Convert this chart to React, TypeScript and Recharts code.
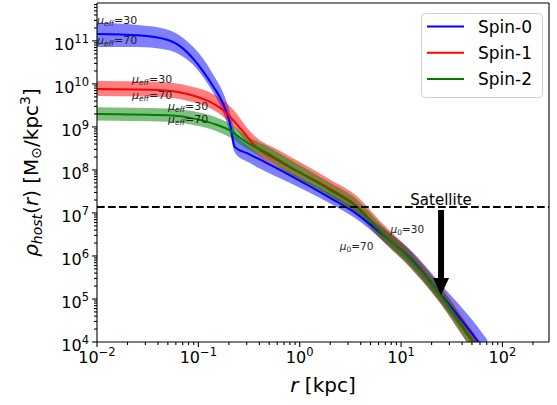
import React from "react";
import { ComposedChart, Area, Line, XAxis, YAxis, ReferenceLine, ReferenceDot } from "recharts";

// all values are log10: r in kpc, rho in Msun/kpc^3
const spin0LogR = [-2.0, -1.6, -1.3, -1.15, -1.05, -0.95, -0.85, -0.76, -0.69, -0.64, -0.5, -0.4, -0.1, 0.3, 0.56, 0.79, 1.11, 1.38, 1.74, 1.85];
const spin0Mid = [11.16, 11.13, 11.02, 10.82, 10.58, 10.28, 9.93, 9.56, 9.1, 8.53, 8.37, 8.25, 7.88, 7.35, 6.98, 6.55, 5.9, 5.14, 4.07, 3.72];
const spin0Lo = [10.86, 10.86, 10.79, 10.63, 10.44, 10.15, 9.78, 9.36, 8.88, 8.4, 8.17, 8.04, 7.7, 7.22, 6.86, 6.42, 5.74, 4.96, 3.85, 3.5];
const spin0Hi = [11.42, 11.37, 11.26, 11.07, 10.86, 10.58, 10.2, 9.82, 9.36, 8.9, 8.55, 8.35, 7.95, 7.45, 7.1, 6.7, 6.1, 5.38, 4.4, 4.05];

const spin1LogR = [-2.0, -1.4, -1.1, -0.9, -0.76, -0.62, -0.52, -0.45, -0.2, 0.3, 0.56, 0.79, 1.11, 1.38, 1.69, 1.85];
const spin1Mid = [9.88, 9.86, 9.76, 9.6, 9.4, 9.06, 8.78, 8.58, 8.2, 7.56, 7.17, 6.6, 5.88, 5.12, 4.08, 3.55];
const spin1Lo = [9.72, 9.7, 9.6, 9.45, 9.25, 8.92, 8.62, 8.42, 8.05, 7.4, 7.0, 6.42, 5.68, 4.92, 3.85, 3.3];
const spin1Hi = [10.07, 10.05, 9.96, 9.82, 9.63, 9.3, 8.98, 8.8, 8.45, 7.78, 7.4, 6.82, 6.08, 5.32, 4.3, 3.78];

const spin2LogR = [-2.0, -1.3, -1.0, -0.82, -0.69, -0.53, -0.33, -0.1, 0.3, 0.56, 0.79, 1.11, 1.38, 1.69, 1.85];
const spin2Mid = [9.3, 9.27, 9.17, 9.05, 8.92, 8.65, 8.4, 8.08, 7.53, 7.14, 6.58, 5.87, 5.12, 4.06, 3.55];
const spin2Lo = [9.15, 9.12, 9.02, 8.9, 8.76, 8.5, 8.25, 7.92, 7.38, 6.98, 6.42, 5.68, 4.93, 3.86, 3.35];
const spin2Hi = [9.46, 9.43, 9.34, 9.22, 9.08, 8.8, 8.56, 8.25, 7.7, 7.32, 6.76, 6.05, 5.3, 4.27, 3.75];

const seriesNames = ["Spin-0", "Spin-1", "Spin-2"];
const seriesColors = ["#0000ff", "#ff0000", "#008000"];

const xMajor = [0.01, 0.1, 1, 10, 100];
const yMajor = [1e4, 1e5, 1e6, 1e7, 1e8, 1e9, 1e10, 1e11];
const minorFactors = [2, 3, 4, 5, 6, 7, 8, 9];
const X_MIN = 0.01;
const X_MAX = 288;
const Y_MIN = 1e4;
const Y_MAX = 7.6e11;

const satelliteRho = 1.38e7;
const satelliteR = 24.8;
const arrowTopRho = 1.17e7;
const arrowBaseRho = 3.08e5;
const arrowTipRho = 1.23e5;

// annotation anchors (text start / baseline) in data coords
const muEffLabels = [
  { r: 0.01, rho: 2.48e11, text: "30" },
  { r: 0.01, rho: 8.5e10, text: "70" },
  { r: 0.0221, rho: 1.05e10, text: "30" },
  { r: 0.0221, rho: 4.48e9, text: "70" },
  { r: 0.0501, rho: 2.48e9, text: "30" },
  { r: 0.0501, rho: 1.24e9, text: "70" },
];
const muZeroLabels = [
  { r: 7.88, rho: 3.43e6, text: "30" },
  { r: 2.48, rho: 1.38e6, text: "70" },
];

const pow = (v: number) => Math.pow(10, v);
const build = (lr: number[], mid: number[], lo: number[], hi: number[]) =>
  lr.map((v, i) => ({ r: pow(v), mid: pow(mid[i]), band: [pow(lo[i]), pow(hi[i])] }));

const spinData = [
  build(spin0LogR, spin0Mid, spin0Lo, spin0Hi),
  build(spin1LogR, spin1Mid, spin1Lo, spin1Hi),
  build(spin2LogR, spin2Mid, spin2Lo, spin2Hi),
];

const minorsOf = (majors: number[], max: number) =>
  majors.flatMap((m) => minorFactors.map((f) => m * f)).filter((v) => v < max);
const xTicks = [...xMajor, ...minorsOf(xMajor, X_MAX)].sort((a, b) => a - b);
const yTicks = [...yMajor, ...minorsOf(yMajor, Y_MAX)].sort((a, b) => a - b);

const FONT = "DejaVu Sans";

const isMajor = (v: number) => Math.abs(Math.log10(v) - Math.round(Math.log10(v))) < 1e-6;
const expText = (v: number) => {
  const e = Math.round(Math.log10(v));
  return e < 0 ? "\u2212" + -e : String(e);
};

const XTick = (props: any) => {
  const { x, y, payload } = props;
  const v = payload.value;
  const major = isMajor(v);
  return (
    <g>
      <line x1={x} x2={x} y1={y} y2={y + (major ? 5 : 3)} stroke="#000" strokeWidth={1.1} />
      {major && (
        <text x={x} y={y + 21} textAnchor="middle" fontSize={16} fontFamily={FONT} fill="#000">
          10<tspan dy={-7} fontSize={11.5}>{expText(v)}</tspan>
        </text>
      )}
    </g>
  );
};

const YTick = (props: any) => {
  const { x, y, payload } = props;
  const v = payload.value;
  const major = isMajor(v);
  return (
    <g>
      <line x1={x} x2={x - (major ? 5 : 3)} y1={y} y2={y} stroke="#000" strokeWidth={1.1} />
      {major && (
        <text x={x - 8} y={y + 9} textAnchor="end" fontSize={16} fontFamily={FONT} fill="#000">
          10<tspan dy={-7} fontSize={11.5}>{expText(v)}</tspan>
        </text>
      )}
    </g>
  );
};

const MuEff = (props: any) => (
  <text x={props.cx} y={props.cy} fontSize={11} fontFamily={FONT} fill="#222">
    <tspan fontStyle="italic">μ</tspan>
    <tspan fontSize={7.5} dy={2.5} fontStyle="italic">eff</tspan>
    <tspan dy={-2.5}>={props.label}</tspan>
  </text>
);

const MuZero = (props: any) => (
  <text x={props.cx} y={props.cy} fontSize={10.5} fontFamily={FONT} fill="#222">
    <tspan fontStyle="italic">μ</tspan>
    <tspan fontSize={7.5} dy={2}>0</tspan>
    <tspan dy={-2}>={props.label}</tspan>
  </text>
);

const ArrowHead = (props: any) => {
  const { cx, cy } = props;
  return <path d={`M${cx},${cy} L${cx - 8},${cy - 17} L${cx + 8},${cy - 17} Z`} fill="#000" />;
};

const SatText = (props: any) => (
  <text x={props.cx} y={props.cy} textAnchor="middle" fontSize={15} fontFamily={FONT} fill="#000">
    Satellite
  </text>
);

export default function App() {
  return (
    <div style={{ position: "absolute", left: 0, top: 0, width: 557, height: 405, background: "#fff" }}>
      <ComposedChart width={557} height={405} margin={{ top: 3, right: 8, left: 0, bottom: 0 }}>
        <XAxis
          dataKey="r"
          type="number"
          scale="log"
          domain={[X_MIN, X_MAX]}
          allowDataOverflow
          ticks={xTicks}
          interval={0}
          height={63}
          tickLine={false}
          tickSize={0}
          tickMargin={0}
          tick={<XTick />}
          axisLine={{ stroke: "#000", strokeWidth: 1.1 }}
          label={{
            content: (p: any) => {
              const vb = p.viewBox;
              return (
                <text x={vb.x + vb.width / 2} y={vb.y + 50} textAnchor="middle" fontSize={20} fontFamily={FONT} fill="#000">
                  <tspan fontStyle="italic">r</tspan> [kpc]
                </text>
              );
            },
          }}
        />
        <YAxis
          type="number"
          scale="log"
          domain={[Y_MIN, Y_MAX]}
          allowDataOverflow
          ticks={yTicks}
          interval={0}
          width={97}
          tickLine={false}
          tickSize={0}
          tickMargin={0}
          tick={<YTick />}
          axisLine={{ stroke: "#000", strokeWidth: 1.1 }}
          label={{
            content: (p: any) => {
              const vb = p.viewBox;
              const cy = vb.y + vb.height / 2;
              return (
                <text transform={`translate(38,${cy}) rotate(-90)`} x={0} y={0} textAnchor="middle" fontSize={20} fontFamily={FONT} fill="#000">
                  <tspan fontStyle="italic">ρ</tspan>
                  <tspan fontStyle="italic" fontSize={14} dy={4}>host</tspan>
                  <tspan dy={-4}>(</tspan>
                  <tspan fontStyle="italic">r</tspan>
                  <tspan>) [M</tspan>
                  <tspan fontSize={14} dy={3}>⊙</tspan>
                  <tspan dy={-3}>/kpc</tspan>
                  <tspan fontSize={14} dy={-8}>3</tspan>
                  <tspan dy={8}>]</tspan>
                </text>
              );
            },
          }}
        />
        {spinData.map((d, i) => [
          <Area
            key={"a" + i}
            data={d}
            dataKey="band"
            type="monotoneX"
            stroke="none"
            fill={seriesColors[i]}
            fillOpacity={0.5}
            isAnimationActive={false}
          />,
          <Line
            key={"l" + i}
            data={d}
            dataKey="mid"
            name={seriesNames[i]}
            type="monotoneX"
            stroke={seriesColors[i]}
            strokeWidth={2}
            dot={false}
            isAnimationActive={false}
          />,
        ])}
        <ReferenceLine y={satelliteRho} stroke="#000" strokeWidth={2} strokeDasharray="7.7 3.3" />
        <ReferenceLine y={Y_MAX} stroke="#000" strokeWidth={1.1} />
        <ReferenceLine x={X_MAX} stroke="#000" strokeWidth={1.1} />
        <ReferenceLine
          segment={[
            { x: satelliteR, y: arrowTopRho },
            { x: satelliteR, y: arrowBaseRho },
          ]}
          stroke="#000"
          strokeWidth={6}
          ifOverflow="visible"
        />
        <ReferenceDot x={satelliteR} y={arrowTipRho} r={0} ifOverflow="visible" shape={<ArrowHead />} />
        <ReferenceDot x={satelliteR} y={1.54e7} r={0} ifOverflow="visible" shape={<SatText />} />
        {muEffLabels.map((m, i) => (
          <ReferenceDot key={"me" + i} x={m.r} y={m.rho} r={0} ifOverflow="visible" shape={<MuEff label={m.text} />} />
        ))}
        {muZeroLabels.map((m, i) => (
          <ReferenceDot key={"mz" + i} x={m.r} y={m.rho} r={0} ifOverflow="visible" shape={<MuZero label={m.text} />} />
        ))}
      </ComposedChart>
      <svg width={557} height={405} style={{ position: "absolute", left: 0, top: 0, pointerEvents: "none" }}>
        <rect x={421.5} y={13.5} width={121} height={84} rx={4} fill="#fff" fillOpacity={0.8} stroke="#d0d0d0" />
        {seriesNames.map((n, i) => (
          <g key={n}>
            <line x1={427} x2={464} y1={26.5 + i * 26.3} y2={26.5 + i * 26.3} stroke={seriesColors[i]} strokeWidth={2} />
            <text x={478} y={32.5 + i * 26.3} fontSize={17} fontFamily={FONT} fill="#000">
              {n}
            </text>
          </g>
        ))}
      </svg>
    </div>
  );
}
